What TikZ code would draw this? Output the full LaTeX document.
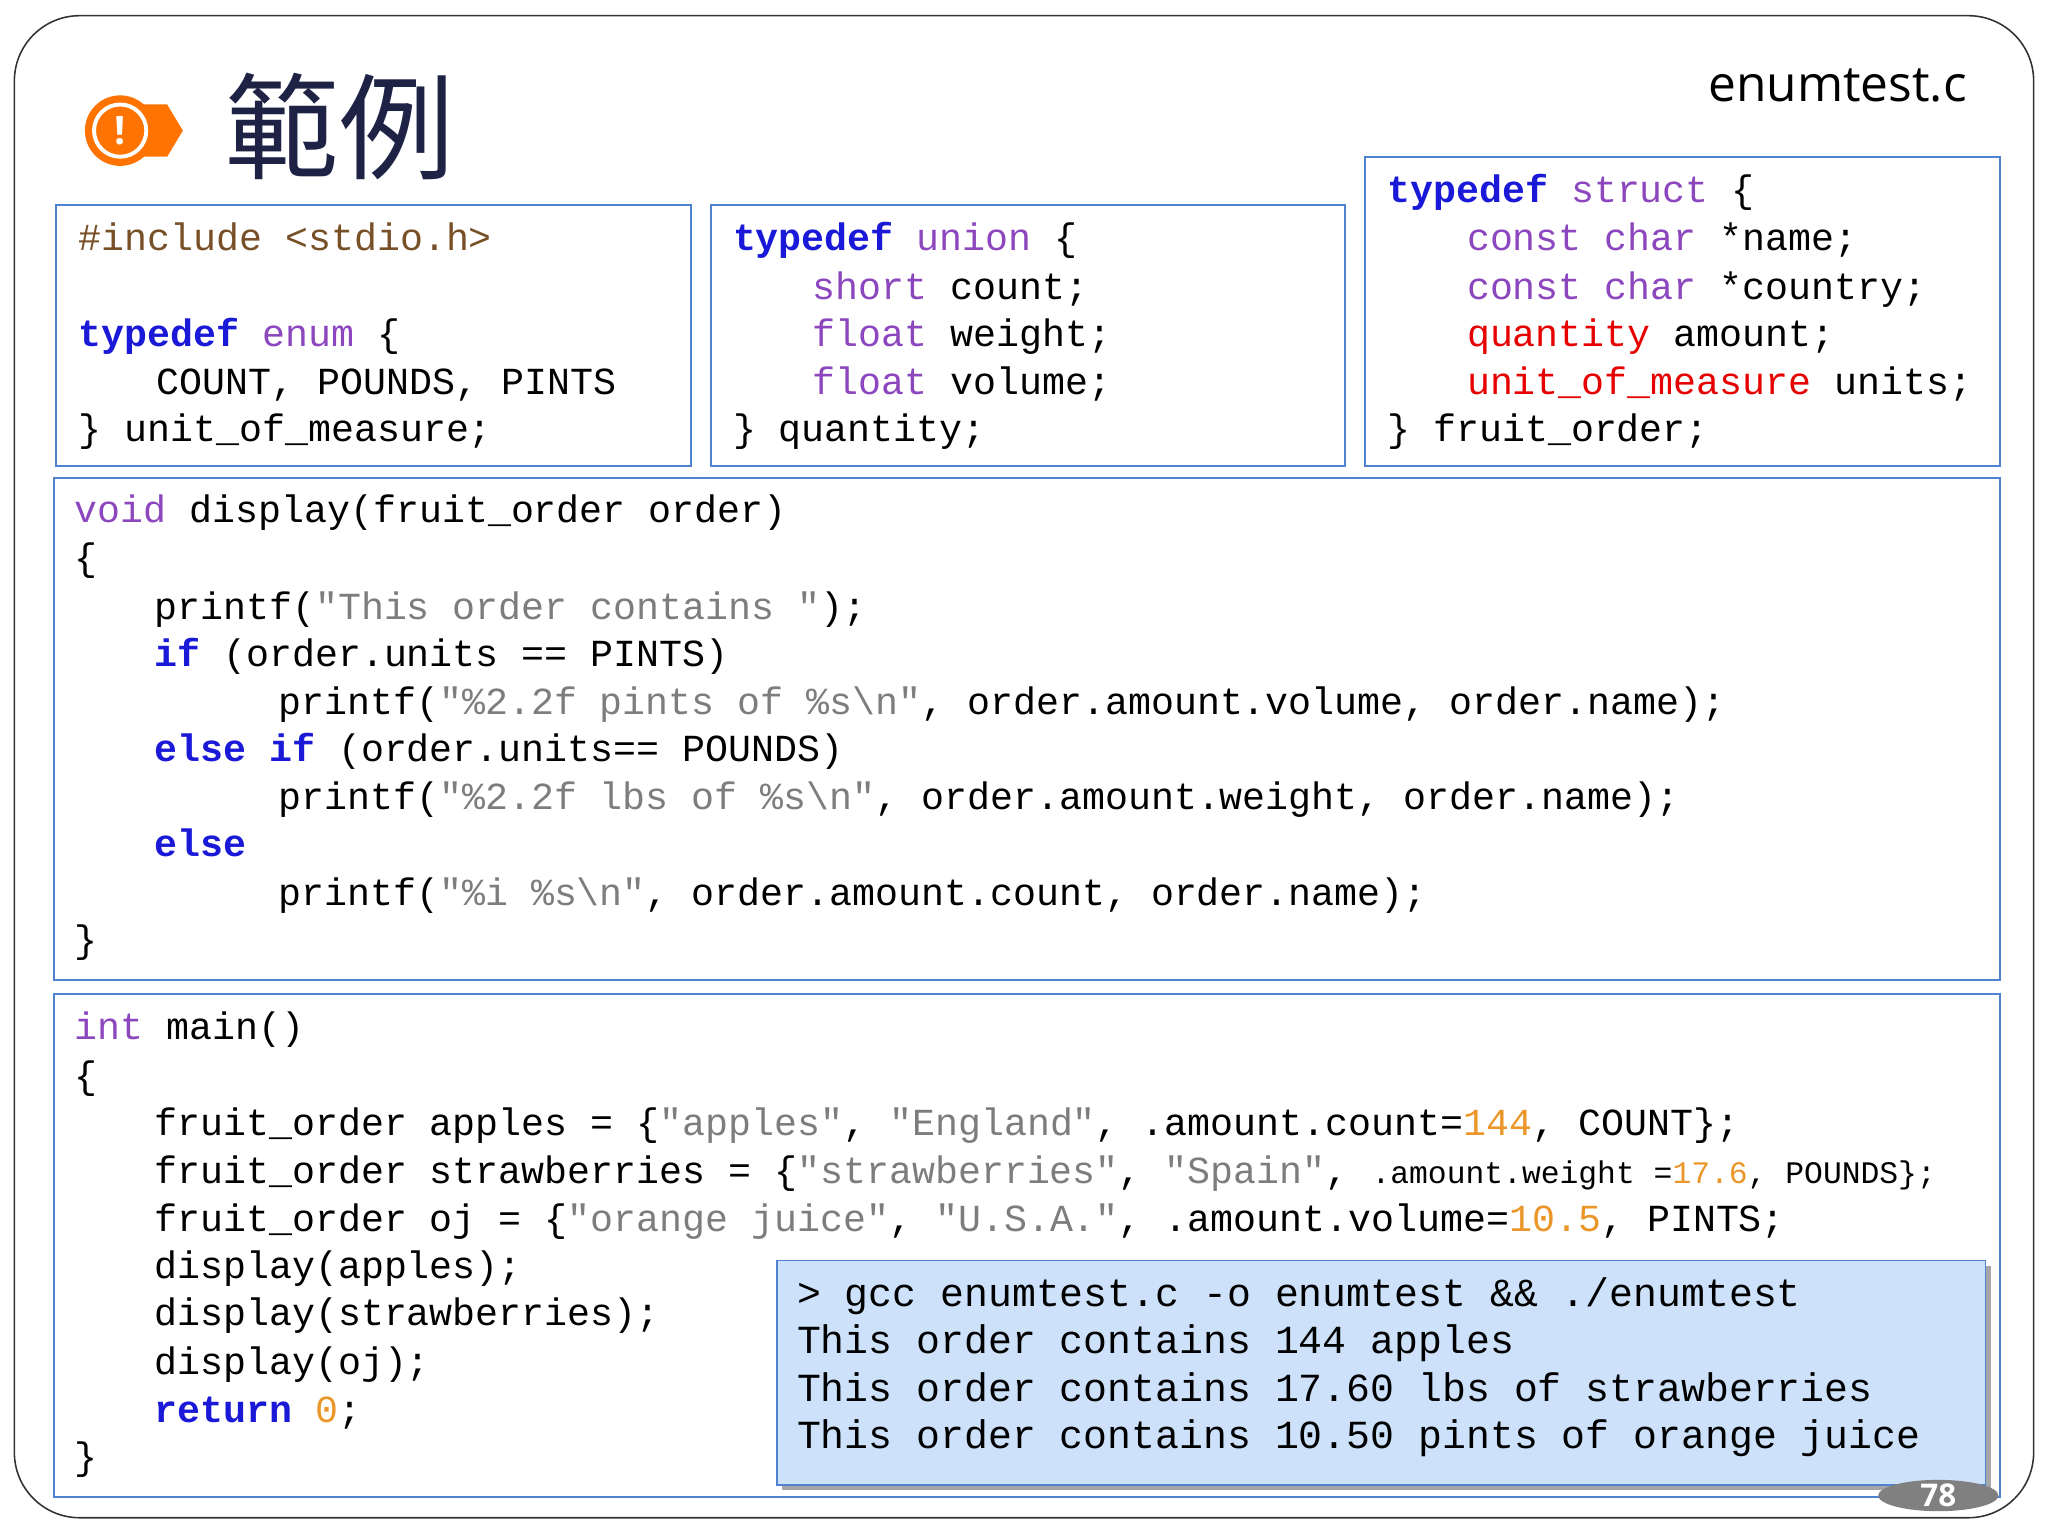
\documentclass[tikz,border=0pt]{standalone}
\usepackage{fontspec}
\newfontfamily\code{Liberation Mono}
\newfontfamily\cjk{Noto Sans CJK TC}
\setsansfont{Open Sans}
\definecolor{kwc}{RGB}{25,25,215}
\definecolor{tyc}{RGB}{140,70,190}
\definecolor{stc}{RGB}{125,125,125}
\definecolor{nmc}{RGB}{235,150,40}
\definecolor{rdc}{RGB}{230,0,0}
\definecolor{bdc}{RGB}{80,130,210}
\definecolor{inc}{RGB}{120,80,40}
\definecolor{outc}{RGB}{205,225,250}
\newcommand\kw[1]{{\bfseries\color{kwc}#1}}
\newcommand\ty[1]{{\color{tyc}#1}}
\newcommand\st[1]{{\color{stc}#1}}
\newcommand\nm[1]{{\color{nmc}#1}}
\newcommand\rd[1]{{\color{rdc}#1}}
\newcommand\qq{\char34}
\begin{document}
\begin{tikzpicture}[x=1pt,y=-1pt,
  cbox/.style={draw=bdc,line width=1.5pt},
  ln/.style={anchor=base west,inner sep=0pt,font=\code\fontsize{29.3}{30}\selectfont},
  oln/.style={anchor=base west,inner sep=0pt,font=\code\fontsize{30.5}{31}\selectfont}]
\useasboundingbox (0,0) rectangle (1568,1176);
\draw[line width=1.2pt,rounded corners=50pt,draw=black!80] (11,12) rectangle (1557,1162);
% icon
\node[coordinate] (ic) at (92,100) {};
\fill[orange!90!red] (100,80) -- (128,80) -- (140,100) -- (128,120) -- (100,120) -- cycle;
\fill[orange!90!red] (ic) circle (27);
\draw[white,line width=3pt] (ic) circle (20);
\node[white,font=\sffamily\bfseries\fontsize{30}{30}\selectfont] at (ic) {!};
\node[anchor=west,inner sep=0pt,font=\cjk\fontsize{88}{90}\selectfont,text={rgb,255:red,30;green,35;blue,70}] (title) at (172,97) {範例};
\node[anchor=base east,inner sep=0pt,font=\sffamily\fontsize{38}{40}\selectfont] (fname) at (1506,78) {enumtest.c};
% boxes
\draw[cbox] (43,157) rectangle (529,357);
\draw[cbox] (544,157) rectangle (1030,357);
\draw[cbox] (1045,120) rectangle (1531,357);
\draw[cbox] (41,366) rectangle (1531,750);
\draw[cbox] (41,761) rectangle (1531,1146);
% box1
\node[ln] (a1) at (60,192) {\color{inc}\#include <stdio.h>};
\node[ln] (a2) at (60,265) {\kw{typedef} \ty{enum} \{};
\node[ln] (a3) at (120,302) {COUNT, POUNDS, PINTS};
\node[ln] (a4) at (60,338) {\} unit\_of\_measure;};
% box2
\node[ln] (b1) at (561,192) {\kw{typedef} \ty{union} \{};
\node[ln] (b2) at (622,229) {\ty{short} count;};
\node[ln] (b3) at (622,265) {\ty{float} weight;};
\node[ln] (b4) at (622,302) {\ty{float} volume;};
\node[ln] (b5) at (561,338) {\} quantity;};
% box3
\node[ln] (c1) at (1062,155) {\kw{typedef} \ty{struct} \{};
\node[ln] (c2) at (1123,192) {\ty{const char} *name;};
\node[ln] (c3) at (1123,229) {\ty{const char} *country;};
\node[ln] (c4) at (1123,265) {\rd{quantity} amount;};
\node[ln] (c5) at (1123,302) {\rd{unit\_of\_measure} units;};
\node[ln] (c6) at (1062,338) {\} fruit\_order;};
% box4
\node[ln] (d1) at (57,400) {\ty{void} display(fruit\_order order)};
\node[ln] (d2) at (57,437) {\{};
\node[ln] (d3) at (118,474) {printf(\st{\qq This order contains \qq});};
\node[ln] (d4) at (118,510) {\kw{if} (order.units == PINTS)};
\node[ln] (d5) at (213,547) {printf(\st{\qq\%2.2f pints of \%s\textbackslash n\qq}, order.amount.volume, order.name);};
\node[ln] (d6) at (118,583) {\kw{else} \kw{if} (order.units== POUNDS)};
\node[ln] (d7) at (213,620) {printf(\st{\qq\%2.2f lbs of \%s\textbackslash n\qq}, order.amount.weight, order.name);};
\node[ln] (d8) at (118,656) {\kw{else}};
\node[ln] (d9) at (213,693) {printf(\st{\qq\%i \%s\textbackslash n\qq}, order.amount.count, order.name);};
\node[ln] (d10) at (57,729) {\}};
% box5
\node[ln] (e1) at (57,796) {\ty{int} main()};
\node[ln] (e2) at (57,833) {\{};
\node[ln] (e3) at (118,869) {fruit\_order apples = \{\st{\qq apples\qq}, \st{\qq England\qq}, .amount.count=\nm{144}, COUNT\};};
\node[ln] (e4) at (118,906) {fruit\_order strawberries = \{\st{\qq strawberries\qq}, \st{\qq Spain\qq}, {\fontsize{24}{24}\selectfont.amount.weight =\nm{17.6}, POUNDS\};}};
\node[ln] (e5) at (118,943) {fruit\_order oj = \{\st{\qq orange juice\qq}, \st{\qq U.S.A.\qq}, .amount.volume=\nm{10.5}, PINTS;};
\node[ln] (e6) at (118,979) {display(apples);};
\node[ln] (e7) at (118,1015) {display(strawberries);};
\node[ln] (e8) at (118,1052) {display(oj);};
\node[ln] (e9) at (118,1089) {\kw{return} \nm{0};};
\node[ln] (e10) at (57,1125) {\}};
% output
\fill[black!35] (599,969) rectangle (1524,1141);
\draw[fill=outc,draw=bdc,line width=1.2pt] (595,965) rectangle (1520,1137);
\node[oln] (o1) at (610,1000) {> gcc enumtest.c -o enumtest \&\& ./enumtest};
\node[oln] (o2) at (610,1036) {This order contains 144 apples};
\node[oln] (o3) at (610,1073) {This order contains 17.60 lbs of strawberries};
\node[oln] (o4) at (610,1109) {This order contains 10.50 pints of orange juice};
% page number
\fill[black!50] (1484,1145) ellipse (46 and 12);
\node[white,font=\sffamily\bfseries\fontsize{24}{24}\selectfont] (pg) at (1484,1145) {78};
\end{tikzpicture}
\end{document}
